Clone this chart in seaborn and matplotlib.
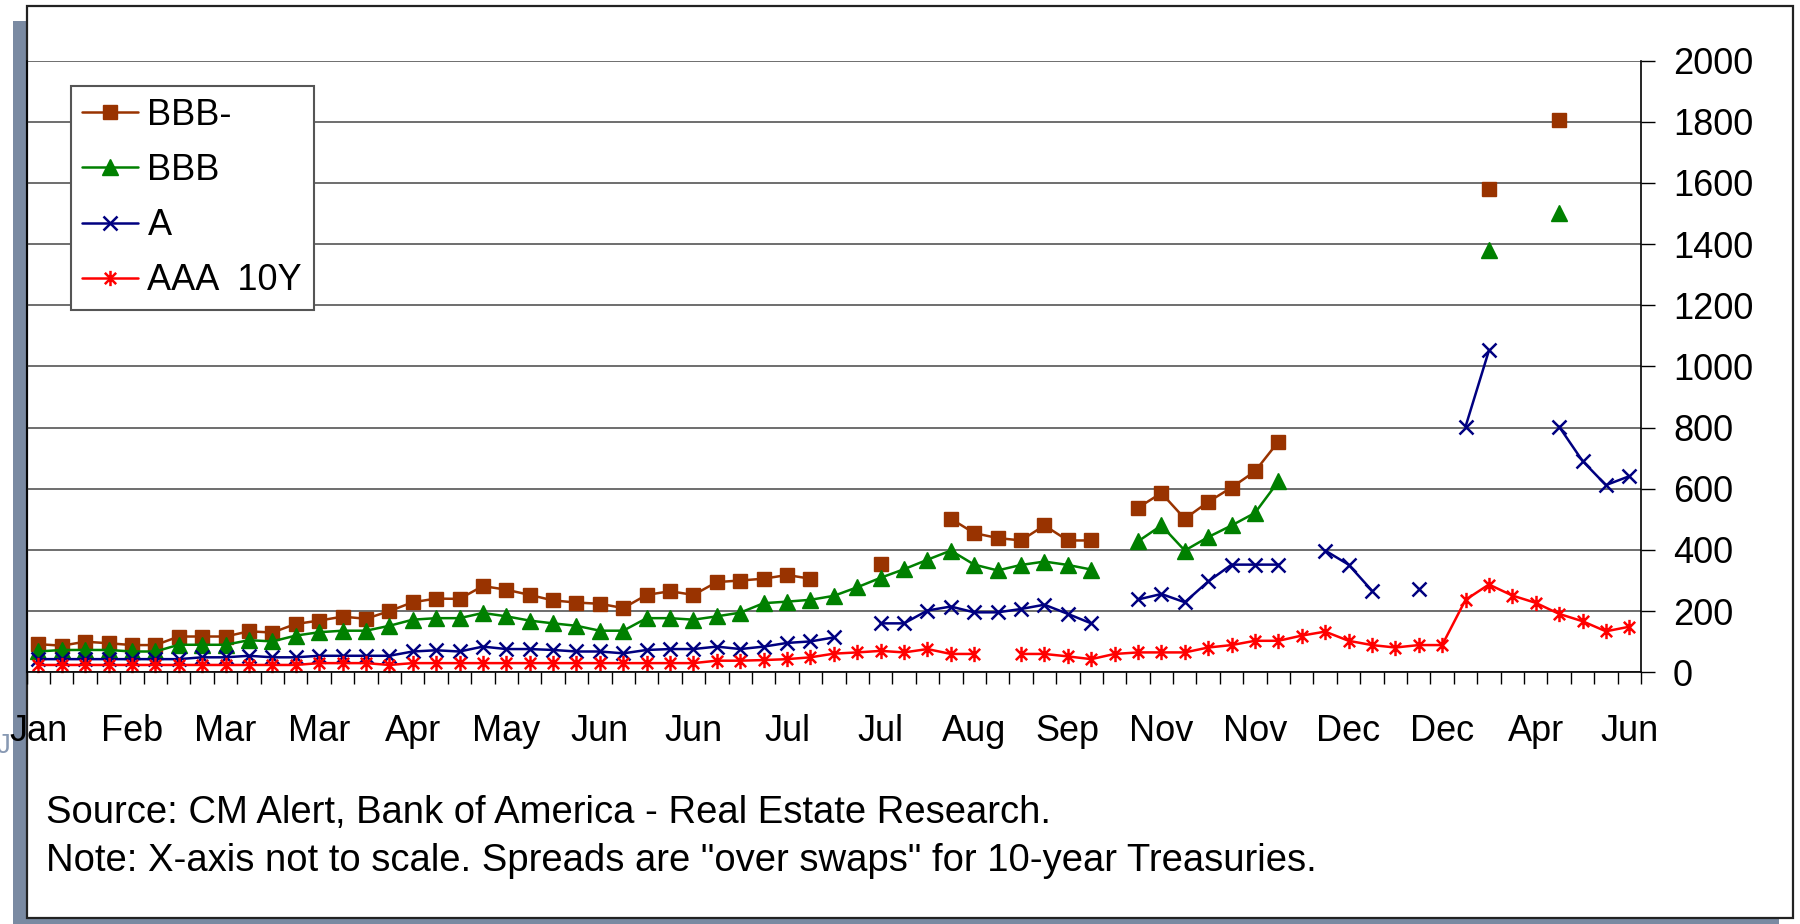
import numpy as np
import pandas as pd
import matplotlib
matplotlib.use("Agg")
import matplotlib.pyplot as plt
from matplotlib.path import Path
from matplotlib.lines import Line2D
from matplotlib.patches import Rectangle
import seaborn as sns

nan = np.nan

# x axis: 69 categories, a label on every 4th one
month_labels = ["Jan", "Feb", "Mar", "Mar", "Apr", "May", "Jun", "Jun", "Jul",
                "Jul", "Aug", "Sep", "Nov", "Nov", "Dec", "Dec", "Apr", "Jun"]
label_every = 4

bbb_minus = [92, 87, 100, 95, 89, 89, 117, 117, 117, 134,
             130, 158, 169, 182, 175, 200, 229, 241, 240, 282,
             270, 253, 235, 228, 224, 210, 253, 265, 253, 295,
             300, 306, 318, 306, nan, nan, 355, nan, nan, 502,
             455, 439, 431, 480, 431, 431, nan, 538, 586, 502,
             557, 604, 657, 754, nan, nan, nan, nan, nan, nan,
             nan, nan, 1580, nan, nan, 1805, nan, nan, nan]

bbb = [68, 73, 73, 73, 68, 68, 90, 90, 90, 105,
       101, 120, 131, 136, 136, 152, 172, 177, 177, 194,
       183, 169, 160, 152, 136, 136, 177, 177, 172, 183,
       195, 226, 231, 237, 250, 278, 309, 337, 368, 398,
       352, 333, 351, 362, 351, 336, nan, 428, 480, 398,
       442, 480, 521, 624, nan, nan, nan, nan, nan, nan,
       nan, nan, 1380, nan, nan, 1502, nan, nan, nan]

a_rating = [43, 43, 43, 43, 43, 43, 43, 49, 49, 54,
            49, 49, 54, 54, 54, 54, 68, 72, 68, 84,
            76, 76, 73, 68, 68, 62, 73, 76, 76, 84,
            76, 84, 96, 101, 114, nan, 160, 160, 202, 215,
            196, 196, 207, 221, 191, 160, nan, 238, 256, 229,
            297, 352, 352, 352, nan, 398, 352, 267, nan, 273,
            nan, 803, 1052, nan, nan, 803, 691, 612, 641]

aaa_10y = [24, 24, 24, 24, 24, 24, 24, 24, 24, 24,
           24, 24, 30, 30, 30, 24, 30, 30, 30, 30,
           30, 30, 30, 30, 30, 30, 30, 30, 30, 38,
           38, 40, 43, 49, 61, 65, 70, 65, 76, 60,
           60, nan, 60, 60, 52, 43, 60, 65, 65, 65,
           81, 89, 103, 103, 120, 133, 103, 89, 81, 89,
           89, 237, 287, 251, 227, 191, 167, 134, 149]

# excel style asterisk: an x with a vertical bar
star = Path([(-1, -1), (1, 1), (-1, 1), (1, -1), (0, -1.35), (0, 1.35)],
            [Path.MOVETO, Path.LINETO] * 3)

series = [
    ("BBB-", bbb_minus, "#993300", "s", 9.5, "#993300"),
    ("BBB", bbb, "#008000", "^", 11, "#008000"),
    ("A", a_rating, "#000080", "x", 10, "none"),
    ("AAA  10Y", aaa_10y, "#FF0000", star, 11, "none"),
]

sns.set_style("white")
plt.rcParams["font.family"] = ["Liberation Sans", "DejaVu Sans"]
plt.rcParams.update({"text.color": "black", "xtick.color": "black",
                     "ytick.color": "black", "axes.labelcolor": "black"})

fig = plt.figure(figsize=(18, 9.24), dpi=100)
W, H = 1800, 924
# slide shadow + white frame
fig.patches.append(Rectangle((13 / W, -0.02), (1779 - 13) / W, 1 - 21 / H + 0.02,
                             transform=fig.transFigure, facecolor="#7a8aa2",
                             edgecolor="none", zorder=-2))
fig.patches.append(Rectangle((26.7 / W, 1 - 917.7 / H), (1793 - 26.7) / W, (917.7 - 5.7) / H,
                             transform=fig.transFigure, facecolor="white",
                             edgecolor="#222222", lw=1.6, zorder=-1))

ax = fig.add_axes([26.7 / W, 1 - 672.3 / H, (1641 - 26.7) / W, (672.3 - 60.5) / H])
ax.set_facecolor("none")

handles = []
for name, vals, col, mk, ms, fc in series:
    y = pd.Series(vals, dtype=float)
    df = pd.DataFrame({"x": np.arange(len(y)), "y": y, "seg": y.isna().cumsum()}).dropna()
    mew = 1.0 if fc != "none" else 1.8
    sns.lineplot(data=df, x="x", y="y", units="seg", estimator=None, ax=ax,
                 color=col, marker=mk, markersize=ms, markeredgecolor=col,
                 markerfacecolor=fc, markeredgewidth=mew, linewidth=1.8,
                 legend=False, clip_on=False)
    handles.append(Line2D([], [], color=col, marker=mk, markersize=ms, markeredgecolor=col,
                          markerfacecolor=fc, markeredgewidth=mew, linewidth=1.8, label=name))

n = len(bbb)
ax.set_xlim(-0.5, n - 0.5)
ax.set_ylim(0, 2000)
ax.set_xlabel("")
ax.set_ylabel("")

ax.set_yticks(np.arange(0, 2001, 200))
ax.yaxis.tick_right()
ax.tick_params(axis="y", direction="out", length=10, width=1, pad=13,
               labelsize=26, right=True, left=False, colors="black")
ax.grid(axis="y", color="#555555", linewidth=1.2)
ax.grid(axis="x", visible=False)

ax.set_xticks(np.arange(-0.5, n, 1.0))
ax.set_xticklabels([])
ax.set_xticks(np.arange(0, n, label_every), minor=True)
ax.set_xticklabels(month_labels, minor=True)
ax.tick_params(axis="x", which="major", direction="out", length=8.5, width=1,
               bottom=True, colors="black")
ax.tick_params(axis="x", which="minor", length=0, pad=30, labelsize=26, bottom=True)

ax.spines["top"].set_visible(False)
for s in ["left", "right", "bottom"]:
    ax.spines[s].set_color("black")
    ax.spines[s].set_linewidth(1.2)

leg = ax.legend(handles=handles, loc="upper left", bbox_to_anchor=(0.0274, 0.958),
                fontsize=26, frameon=True, fancybox=False, framealpha=1,
                edgecolor="#555555", handlelength=1.55, handletextpad=0.25,
                labelspacing=0.56, borderpad=0.32, borderaxespad=0)
leg.get_frame().set_linewidth(1.5)

fig.text(46 / W, 1 - 813 / H, "Source: CM Alert, Bank of America - Real Estate Research.",
         va="center", ha="left", fontsize=27.5)
fig.text(46 / W, 1 - 861 / H,
         'Note: X-axis not to scale. Spreads are "over swaps" for 10-year Treasuries.',
         va="center", ha="left", fontsize=27.5)
fig.text(-3 / W, 1 - 746 / H, "J", color="#8899b3", fontsize=20, va="center", ha="left")

fig.savefig("out.png", dpi=100)
